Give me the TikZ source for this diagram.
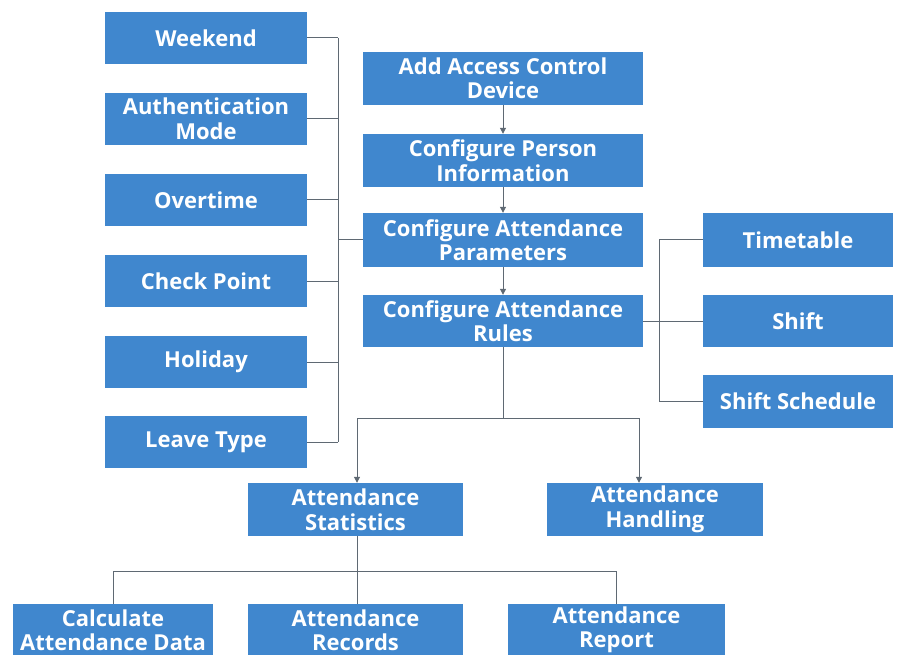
\documentclass[tikz,border=0pt]{standalone}
\usepackage{fontspec}
\setmainfont{Open Sans}
\usetikzlibrary{arrows.meta}
\definecolor{boxblue}{RGB}{64,135,206}
\definecolor{linegray}{RGB}{95,105,115}
\begin{document}
\begin{tikzpicture}[x=1pt,y=-1pt,
  box/.style={fill=boxblue, draw=none, text=white, font=\bfseries\fontsize{22}{24.5}\selectfont, align=center, inner sep=0pt, minimum height=52pt},
  conn/.style={draw=linegray, line width=1pt},
  arr/.style={conn, -{Triangle[length=6pt,width=6pt]}}]
\useasboundingbox (0,0) rectangle (897,655);
% left column
\node[box, minimum width=202pt] (weekend) at (206,38) {Weekend};
\node[box, minimum width=202pt] (auth) at (206,119) {Authentication\\Mode};
\node[box, minimum width=202pt] (overtime) at (206,200) {Overtime};
\node[box, minimum width=202pt] (check) at (206,281) {Check Point};
\node[box, minimum width=202pt] (holiday) at (206,362) {Holiday};
\node[box, minimum width=202pt] (leave) at (206,442) {Leave Type};
% center column
\node[box, minimum width=280pt, minimum height=53pt] (add) at (503,78.5) {Add Access Control\\Device};
\node[box, minimum width=280pt, minimum height=53pt] (person) at (503,160.5) {Configure Person\\Information};
\node[box, minimum width=280pt, minimum height=54pt] (params) at (503,240) {Configure Attendance\\Parameters};
\node[box, minimum width=280pt] (rules) at (503,321) {Configure Attendance\\Rules};
% right column
\node[box, minimum width=190pt, minimum height=54pt] (timetable) at (798,240) {Timetable};
\node[box, minimum width=190pt] (shift) at (798,321) {Shift};
\node[box, minimum width=190pt, minimum height=53pt] (schedule) at (798,401.5) {Shift Schedule};
% middle row
\node[box, minimum width=215pt, minimum height=53pt] (stats) at (355.5,509.5) {Attendance\\Statistics};
\node[box, minimum width=216pt, minimum height=53pt] (handling) at (655,509.5) {Attendance\\Handling};
% bottom row
\node[box, minimum width=200pt] (calc) at (113,630) {Calculate\\Attendance Data};
\node[box, minimum width=215pt] (records) at (355.5,630) {Attendance\\Records};
\node[box, minimum width=217pt] (report) at (616.5,630) {Attendance\\Report};
% helper coordinates
\coordinate (lb) at (338,0);
\coordinate (rb) at (659,0);
\coordinate (split) at (0,418);
\coordinate (statsx) at (357,0);
\coordinate (handx) at (639,0);
\coordinate (lowsplit) at (0,571);
% left bus
\draw[conn] (weekend.east) -- (weekend.east -| lb);
\draw[conn] (auth.east) -- (auth.east -| lb);
\draw[conn] (overtime.east) -- (overtime.east -| lb);
\draw[conn] (check.east) -- (check.east -| lb);
\draw[conn] (holiday.east) -- (holiday.east -| lb);
\draw[conn] (leave.east) -- (leave.east -| lb);
\draw[conn] (weekend.east -| lb) -- (leave.east -| lb);
\draw[conn] (params.west) -- (params.west -| lb);
% center arrows
\draw[arr] (add.south) -- (person.north);
\draw[arr] (person.south) -- (params.north);
\draw[arr] (params.south) -- (rules.north);
% right bus
\draw[conn] (rules.east) -- (rules.east -| rb);
\draw[conn] (timetable.west -| rb) -- (schedule.west -| rb);
\draw[conn] (timetable.west -| rb) -- (timetable.west);
\draw[conn] (shift.west -| rb) -- (shift.west);
\draw[conn] (schedule.west -| rb) -- (schedule.west);
% rules down split
\draw[conn] (rules.south) -- (rules.south |- split);
\draw[conn] (statsx |- split) -- (handx |- split);
\draw[arr] (statsx |- split) -- (statsx |- stats.north);
\draw[arr] (handx |- split) -- (handx |- handling.north);
% stats to bottom
\draw[conn] (statsx |- stats.south) -- (statsx |- lowsplit);
\draw[conn] (calc.north |- lowsplit) -- (report.north |- lowsplit);
\draw[conn] (calc.north |- lowsplit) -- (calc.north);
\draw[conn] (statsx |- lowsplit) -- (statsx |- records.north);
\draw[conn] (report.north |- lowsplit) -- (report.north);
\end{tikzpicture}
\end{document}
